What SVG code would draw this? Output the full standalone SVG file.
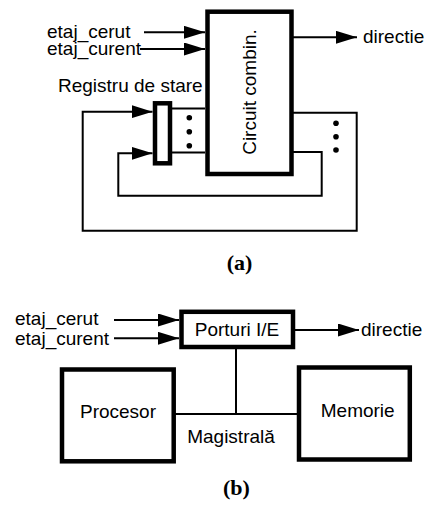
<svg xmlns="http://www.w3.org/2000/svg" width="427" height="510" viewBox="0 0 427 510">
<style>
.t{font-family:"Liberation Sans",Arial,sans-serif;font-size:19px;fill:#000}
.lbl{font-family:"Liberation Serif","Times New Roman",serif;font-size:22px;font-weight:bold;fill:#000}
.box{fill:#fff;stroke:#000;stroke-width:4.5}
.ln{fill:none;stroke:#000;stroke-width:2}
</style>
<defs>
<marker id="ah" markerUnits="userSpaceOnUse" markerWidth="21" markerHeight="13" refX="21" refY="6.5" orient="auto">
<path d="M0,0 L21,6.5 L0,13 z" fill="#000"/>
</marker>
</defs>
<g id="connectors">
<line class="ln" x1="144" y1="32.3" x2="205" y2="32.3" marker-end="url(#ah)"/>
<line class="ln" x1="140" y1="49" x2="205" y2="49" marker-end="url(#ah)"/>
<line class="ln" x1="293" y1="37.3" x2="357" y2="37.3" marker-end="url(#ah)"/>
<line class="ln" x1="172" y1="108.5" x2="205" y2="108.5"/>
<line class="ln" x1="172" y1="152.5" x2="205" y2="152.5"/>
<polyline class="ln" points="293,112.7 356.7,112.7 356.7,230.7 82.7,230.7 82.7,111.7 152.5,111.7" marker-end="url(#ah)"/>
<polyline class="ln" points="293,152 321.7,152 321.7,195.7 118.3,195.7 118.3,153.3 152.5,153.3" marker-end="url(#ah)"/>
<line class="ln" x1="114" y1="320" x2="179" y2="320" marker-end="url(#ah)"/>
<line class="ln" x1="114" y1="338.3" x2="179" y2="338.3" marker-end="url(#ah)"/>
<line class="ln" x1="295" y1="330" x2="359" y2="330" marker-end="url(#ah)"/>
<line class="ln" x1="236" y1="349" x2="236" y2="414"/>
<line class="ln" x1="175" y1="414" x2="297" y2="414"/>
<circle cx="189.3" cy="117.7" r="2.8"/>
<circle cx="189.3" cy="131.7" r="2.8"/>
<circle cx="189.3" cy="145.7" r="2.8"/>
<circle cx="336" cy="123.3" r="2.8"/>
<circle cx="336" cy="136.7" r="2.8"/>
<circle cx="336" cy="150" r="2.8"/>
</g>
<g id="inputs-a">
<text class="t" x="47" y="38">etaj_cerut</text>
<text class="t" x="47" y="55">etaj_curent</text>
</g>
<g id="circuit">
<rect class="box" x="207.5" y="11.7" width="84" height="162.3"/>
<text class="t" transform="translate(256,92) rotate(-90)" text-anchor="middle">Circuit combin.</text>
</g>
<g id="out-a"><text class="t" x="363" y="43">directie</text></g>
<g id="registru">
<text class="t" x="58" y="92">Registru de stare</text>
<rect class="box" x="155" y="103.3" width="15" height="60"/>
</g>
<text class="lbl" x="239.5" y="270" text-anchor="middle">(a)</text>
<g id="inputs-b">
<text class="t" x="15" y="325">etaj_cerut</text>
<text class="t" x="15" y="345">etaj_curent</text>
</g>
<g id="porturi">
<rect class="box" x="181.5" y="311.8" width="111.5" height="35.2"/>
<text class="t" x="237" y="336" text-anchor="middle">Porturi I/E</text>
</g>
<g id="out-b"><text class="t" x="361" y="336">directie</text></g>
<g id="procesor">
<rect class="box" x="62" y="369.5" width="111.7" height="91.8"/>
<text class="t" x="118" y="418" text-anchor="middle">Procesor</text>
</g>
<g id="memorie">
<rect class="box" x="299" y="367.5" width="110.8" height="92"/>
<text class="t" x="357.7" y="417" text-anchor="middle">Memorie</text>
</g>
<g id="magistrala"><text class="t" x="231" y="443" text-anchor="middle">Magistrală</text></g>
<text class="lbl" x="236.5" y="495" text-anchor="middle">(b)</text>
</svg>
